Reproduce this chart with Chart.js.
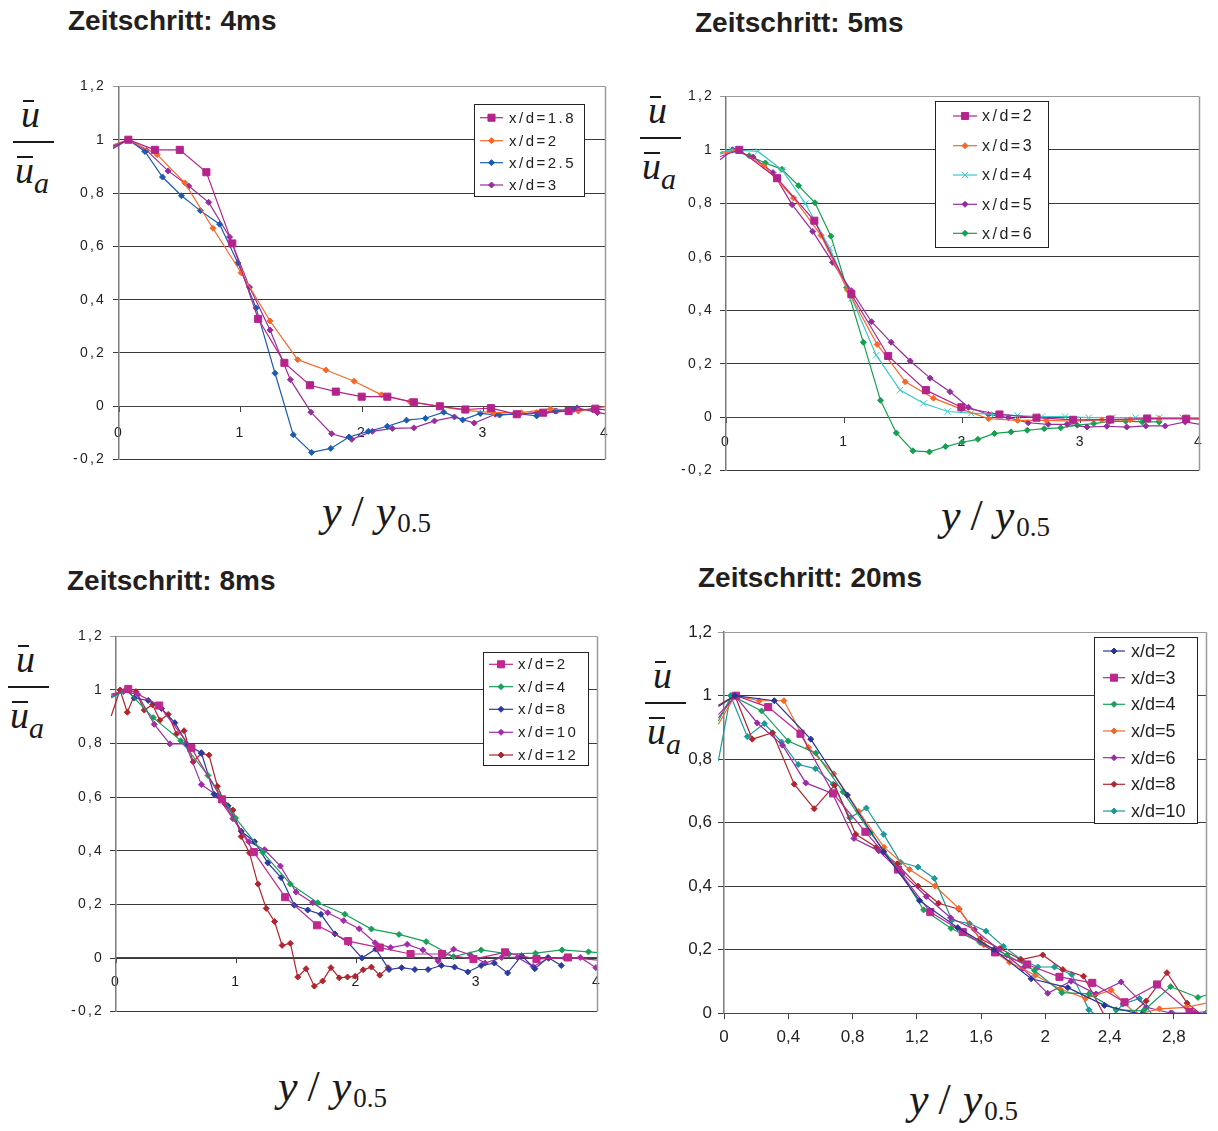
<!DOCTYPE html>
<html>
<head>
<meta charset="utf-8">
<script src="https://cdn.jsdelivr.net/npm/chart.js@4.4.1/dist/chart.umd.min.js"></script>
<style>
  html, body { margin: 0; padding: 0; background: #fff; }
  body { width: 1218px; height: 1131px; position: relative; overflow: hidden; }
  canvas { position: absolute; }
  .title { position: absolute; font: bold 28px 'Liberation Sans', Arial, sans-serif; line-height: 28px; color: #231f20; white-space: nowrap; }
  .ylab { position: absolute; width: 60px; height: 110px; font-family: 'Liberation Serif', 'Times New Roman', serif; font-style: italic; color: #1a1a1a; }
  .ylab div { position: absolute; }
  .ylab .ln { height: 1.5px; background: #1a1a1a; }
  .ylab .u { font-size: 38px; line-height: 38px; }
  .ylab .a { font-size: 30px; line-height: 30px; }
  .xlab { position: absolute; font-family: 'Liberation Serif', 'Times New Roman', serif; font-size: 44px; line-height: 44px; color: #1a1a1a; white-space: nowrap; }
  .xlab i { font-style: italic; }
  .xlab .sl { margin: 0 12px 0 10px; }
  .xlab .sb { font-size: 27px; vertical-align: -6px; margin-left: 2px; }
</style>
</head>
<body>

<div class="title" style="left:68px; top:7px;">Zeitschritt: 4ms</div>
<div class="title" style="left:695px; top:9px;">Zeitschritt: 5ms</div>
<div class="title" style="left:67px; top:567px;">Zeitschritt: 8ms</div>
<div class="title" style="left:698px; top:564px;">Zeitschritt: 20ms</div>

<div class="ylab" style="left:13px; top:95px;">
  <div class="ln" style="left:10px; top:5px; width:11px;"></div>
  <div class="u" style="left:8px; top:0px;">u</div>
  <div class="ln" style="left:0px; top:46px; width:41px;"></div>
  <div class="ln" style="left:4px; top:61px; width:16px;"></div>
  <div class="u" style="left:2px; top:56px;">u</div>
  <div class="a" style="left:21px; top:73px;">a</div>
</div>
<div class="ylab" style="left:640px; top:91px;">
  <div class="ln" style="left:10px; top:5px; width:11px;"></div>
  <div class="u" style="left:8px; top:0px;">u</div>
  <div class="ln" style="left:0px; top:46px; width:41px;"></div>
  <div class="ln" style="left:4px; top:61px; width:16px;"></div>
  <div class="u" style="left:2px; top:56px;">u</div>
  <div class="a" style="left:21px; top:73px;">a</div>
</div>
<div class="ylab" style="left:8px; top:640px;">
  <div class="ln" style="left:10px; top:5px; width:11px;"></div>
  <div class="u" style="left:8px; top:0px;">u</div>
  <div class="ln" style="left:0px; top:46px; width:41px;"></div>
  <div class="ln" style="left:4px; top:61px; width:16px;"></div>
  <div class="u" style="left:2px; top:56px;">u</div>
  <div class="a" style="left:21px; top:73px;">a</div>
</div>
<div class="ylab" style="left:645px; top:656px;">
  <div class="ln" style="left:10px; top:5px; width:11px;"></div>
  <div class="u" style="left:8px; top:0px;">u</div>
  <div class="ln" style="left:0px; top:46px; width:41px;"></div>
  <div class="ln" style="left:4px; top:61px; width:16px;"></div>
  <div class="u" style="left:2px; top:56px;">u</div>
  <div class="a" style="left:21px; top:73px;">a</div>
</div>

<div class="xlab" style="left:322px; top:490px;"><i>y</i><span class="sl">/</span><i>y</i><span class="sb">0.5</span></div>
<div class="xlab" style="left:941px; top:494px;"><i>y</i><span class="sl">/</span><i>y</i><span class="sb">0.5</span></div>
<div class="xlab" style="left:278px; top:1065px;"><i>y</i><span class="sl">/</span><i>y</i><span class="sb">0.5</span></div>
<div class="xlab" style="left:909px; top:1078px;"><i>y</i><span class="sl">/</span><i>y</i><span class="sb">0.5</span></div>

<canvas id="c4ms"></canvas>
<canvas id="c5ms"></canvas>
<canvas id="c8ms"></canvas>
<canvas id="c20ms"></canvas>

<script>
// ---------- Zeitschritt 4ms ----------
const p1_xd18_x = [-0.055, 0.077, 0.295, 0.5, 0.719, 0.932, 1.145, 1.361, 1.571, 1.784, 1.997, 2.208, 2.426, 2.64, 2.85, 3.06, 3.273, 3.49, 3.70, 3.92, 4.13];
const p1_xd18_y = [0.975, 1.0, 0.962, 0.962, 0.878, 0.611, 0.328, 0.163, 0.079, 0.055, 0.036, 0.036, 0.015, 0.0, -0.012, -0.007, -0.03, -0.024, -0.018, -0.009, -0.02];
const p1_xd2_x = [-0.055, 0.077, 0.314, 0.541, 0.773, 1.005, 1.243, 1.47, 1.702, 1.934, 2.161, 2.393, 2.63, 2.85, 3.08, 3.31, 3.55, 3.78, 4.02];
const p1_xd2_y = [0.98, 1.0, 0.944, 0.838, 0.668, 0.501, 0.320, 0.175, 0.136, 0.094, 0.043, 0.018, 0.0, -0.015, -0.024, -0.024, -0.01, -0.018, 0.0];
const p1_xd25_x = [-0.055, 0.077, 0.213, 0.358, 0.514, 0.669, 0.828, 0.978, 1.128, 1.284, 1.434, 1.585, 1.743, 1.893, 2.052, 2.208, 2.366, 2.522, 2.672, 2.828, 2.973, 3.131, 3.287, 3.437, 3.587, 3.743, 3.90, 4.05];
const p1_xd25_y = [0.97, 1.0, 0.956, 0.860, 0.790, 0.734, 0.683, 0.538, 0.369, 0.124, -0.107, -0.173, -0.158, -0.115, -0.094, -0.075, -0.052, -0.045, -0.022, -0.051, -0.027, -0.033, -0.028, -0.036, -0.018, -0.012, -0.012, -0.012];
const p1_xd3_x = [-0.055, 0.077, 0.227, 0.404, 0.574, 0.738, 0.91, 1.074, 1.243, 1.41, 1.579, 1.749, 1.915, 2.085, 2.249, 2.426, 2.596, 2.76, 2.923, 3.096, 3.268, 3.437, 3.60, 3.77, 3.937, 4.1];
const p1_xd3_y = [0.965, 1.0, 0.96, 0.883, 0.826, 0.765, 0.635, 0.447, 0.286, 0.10, -0.022, -0.103, -0.124, -0.094, -0.083, -0.081, -0.055, -0.040, -0.063, -0.030, -0.030, -0.024, -0.018, -0.006, -0.024, -0.035];

// ---------- Zeitschritt 5ms ----------
const p2_xd2_x = [-0.05, 0.112, 0.431, 0.747, 1.06, 1.371, 1.69, 1.99, 2.312, 2.625, 2.935, 3.248, 3.561, 3.891, 4.2];
const p2_xd2_y = [0.975, 1.0, 0.894, 0.735, 0.46, 0.229, 0.101, 0.037, 0.01, -0.002, -0.01, -0.009, -0.005, -0.006, -0.01];
const p2_xd3_x = [-0.05, 0.103, 0.322, 0.571, 0.803, 1.027, 1.278, 1.516, 1.754, 1.99, 2.22, 2.465, 2.706, 2.935, 3.178, 3.416, 3.662, 3.89, 4.13];
const p2_xd3_y = [0.985, 1.0, 0.939, 0.82, 0.68, 0.476, 0.272, 0.132, 0.071, 0.03, -0.006, -0.012, -0.012, -0.015, -0.01, -0.01, -0.006, -0.006, -0.005];
const p2_xd4_x = [-0.05, 0.048, 0.271, 0.476, 0.671, 0.878, 1.063, 1.27, 1.471, 1.67, 1.874, 2.074, 2.27, 2.465, 2.67, 2.866, 3.067, 3.268, 3.464, 3.663, 3.862, 4.06];
const p2_xd4_y = [0.99, 1.0, 0.994, 0.924, 0.799, 0.632, 0.445, 0.232, 0.101, 0.052, 0.021, 0.015, 0.01, 0.006, 0.002, 0.002, -0.002, -0.002, -0.002, -0.002, -0.002, -0.002];
const p2_xd5_x = [-0.05, 0.056, 0.229, 0.397, 0.559, 0.733, 0.901, 1.06, 1.23, 1.396, 1.558, 1.726, 1.894, 2.05, 2.22, 2.388, 2.555, 2.724, 2.884, 3.052, 3.22, 3.388, 3.549, 3.714, 3.883, 4.05];
const p2_xd5_y = [0.963, 1.0, 0.973, 0.915, 0.795, 0.695, 0.579, 0.473, 0.357, 0.28, 0.21, 0.146, 0.095, 0.037, 0.01, -0.002, -0.021, -0.027, -0.027, -0.037, -0.034, -0.037, -0.033, -0.033, -0.018, -0.03];
const p2_xd6_x = [-0.05, 0.056, 0.196, 0.333, 0.473, 0.613, 0.752, 0.887, 1.021, 1.161, 1.306, 1.44, 1.58, 1.72, 1.857, 1.997, 2.13, 2.27, 2.41, 2.547, 2.69, 2.83, 2.97, 3.11, 3.243, 3.38, 3.52, 3.662];
const p2_xd6_y = [0.99, 1.0, 0.978, 0.951, 0.927, 0.866, 0.802, 0.677, 0.485, 0.28, 0.063, -0.059, -0.126, -0.13, -0.11, -0.094, -0.083, -0.061, -0.055, -0.049, -0.043, -0.04, -0.03, -0.024, -0.016, -0.015, -0.018, -0.018];

// ---------- Zeitschritt 8ms ----------
const p3_xd2_x = [-0.04, 0.102, 0.359, 0.627, 0.881, 1.146, 1.406, 1.671, 1.93, 2.193, 2.449, 2.711, 2.972, 3.234, 3.496, 3.758, 4.1];
const p3_xd2_y = [0.98, 1.004, 0.942, 0.783, 0.592, 0.395, 0.227, 0.122, 0.063, 0.039, 0.015, 0.015, -0.004, 0.021, -0.004, 0.002, -0.012];
const p3_xd4_x = [-0.04, 0.088, 0.309, 0.539, 0.765, 0.994, 1.221, 1.45, 1.677, 1.903, 2.124, 2.353, 2.579, 2.807, 3.036, 3.267, 3.488, 3.708, 3.928, 4.15];
const p3_xd4_y = [0.97, 1.0, 0.897, 0.811, 0.681, 0.522, 0.394, 0.276, 0.206, 0.163, 0.108, 0.088, 0.061, 0.005, 0.03, 0.015, 0.018, 0.03, 0.023, 0.015];
const p3_xd8_x = [-0.04, 0.09, 0.152, 0.268, 0.378, 0.489, 0.599, 0.71, 0.815, 0.931, 1.041, 1.152, 1.262, 1.373, 1.483, 1.594, 1.704, 1.82, 1.931, 2.044, 2.16, 2.27, 2.375, 2.485, 2.595, 2.705, 2.815, 2.925, 3.036, 3.146, 3.256, 3.372, 3.482, 3.592, 3.702];
const p3_xd8_y = [0.975, 1.0, 0.97, 0.961, 0.931, 0.878, 0.793, 0.766, 0.611, 0.568, 0.473, 0.434, 0.355, 0.30, 0.197, 0.179, 0.163, 0.09, 0.057, 0.0, 0.033, -0.043, -0.036, -0.043, -0.043, -0.028, -0.034, -0.052, -0.028, -0.019, -0.056, 0.009, -0.04, 0.002, -0.028];
const p3_xd10_x = [-0.04, 0.061, 0.18, 0.318, 0.448, 0.577, 0.71, 0.843, 0.972, 1.105, 1.235, 1.367, 1.497, 1.635, 1.76, 1.892, 2.022, 2.154, 2.284, 2.421, 2.551, 2.678, 2.807, 2.945, 3.069, 3.207, 3.339, 3.468, 3.598, 3.73, 3.86, 3.99, 4.12];
const p3_xd10_y = [0.985, 0.994, 0.984, 0.872, 0.799, 0.799, 0.647, 0.605, 0.52, 0.434, 0.404, 0.343, 0.246, 0.206, 0.169, 0.139, 0.109, 0.057, 0.039, 0.051, 0.03, -0.012, 0.033, 0.012, -0.019, 0.002, 0.002, -0.032, -0.001, 0.0, 0.002, -0.036, -0.04];
const p3_xd12_x = [-0.04, 0.033, 0.094, 0.166, 0.235, 0.304, 0.365, 0.434, 0.503, 0.566, 0.641, 0.71, 0.773, 0.843, 0.909, 0.972, 1.041, 1.11, 1.18, 1.249, 1.318, 1.381, 1.45, 1.511, 1.58, 1.649, 1.718, 1.787, 1.856, 1.925, 1.989, 2.055, 2.124, 2.193, 2.262];
const p3_xd12_y = [0.903, 1.0, 0.917, 0.994, 0.925, 0.945, 0.887, 0.909, 0.836, 0.848, 0.732, 0.763, 0.757, 0.641, 0.574, 0.552, 0.453, 0.392, 0.276, 0.185, 0.136, 0.047, 0.055, -0.071, -0.040, -0.105, -0.086, -0.036, -0.074, -0.071, -0.068, -0.044, -0.034, -0.064, -0.036];

// ---------- Zeitschritt 20ms ----------
const p4_xd2_x = [-0.035, 0.068, 0.313, 0.54, 0.768, 0.994, 1.217, 1.455, 1.68, 1.912, 2.14, 2.368, 2.6, 2.83, 3.06];
const p4_xd2_y = [0.966, 1.0, 0.984, 0.863, 0.687, 0.508, 0.354, 0.269, 0.20, 0.108, 0.08, 0.024, -0.005, -0.01, -0.01];
const p4_xd3_x = [-0.035, 0.075, 0.275, 0.476, 0.679, 0.88, 1.083, 1.284, 1.486, 1.687, 1.887, 2.088, 2.292, 2.493, 2.695, 2.898, 3.1];
const p4_xd3_y = [0.94, 1.0, 0.964, 0.88, 0.692, 0.571, 0.452, 0.318, 0.255, 0.191, 0.153, 0.114, 0.095, 0.034, 0.09, 0.003, -0.03];
const p4_xd4_x = [-0.035, 0.048, 0.234, 0.40, 0.571, 0.741, 0.911, 1.087, 1.242, 1.413, 1.594, 1.762, 1.932, 2.103, 2.271, 2.441, 2.611, 2.78, 2.95, 3.12];
const p4_xd4_y = [0.92, 1.0, 0.952, 0.857, 0.819, 0.697, 0.568, 0.452, 0.325, 0.267, 0.222, 0.183, 0.134, 0.064, 0.06, 0.01, 0.007, 0.083, 0.049, 0.075];
const p4_xd5_x = [-0.035, 0.068, 0.219, 0.373, 0.526, 0.683, 0.839, 0.996, 1.155, 1.313, 1.461, 1.617, 1.777, 1.938, 2.094, 2.25, 2.41, 2.566, 2.71, 2.877, 3.04];
const p4_xd5_y = [0.91, 1.0, 0.984, 0.984, 0.837, 0.754, 0.635, 0.522, 0.452, 0.40, 0.33, 0.215, 0.16, 0.119, 0.075, 0.046, 0.072, -0.005, 0.013, 0.018, 0.035];
const p4_xd6_x = [-0.035, 0.068, 0.207, 0.364, 0.509, 0.675, 0.809, 0.963, 1.11, 1.259, 1.41, 1.558, 1.71, 1.86, 2.015, 2.16, 2.316, 2.472, 2.628, 2.78, 2.93, 3.08];
const p4_xd6_y = [0.93, 1.0, 0.914, 0.844, 0.725, 0.692, 0.55, 0.511, 0.439, 0.367, 0.30, 0.263, 0.20, 0.14, 0.062, 0.10, 0.06, 0.098, 0.018, 0.0, 0.0, 0.01];
const p4_xd8_x = [-0.035, 0.068, 0.176, 0.302, 0.437, 0.561, 0.689, 0.82, 0.948, 1.077, 1.207, 1.335, 1.462, 1.594, 1.718, 1.849, 1.984, 2.109, 2.238, 2.37, 2.5, 2.628, 2.757, 2.882, 3.01];
const p4_xd8_y = [0.97, 1.0, 0.863, 0.883, 0.721, 0.644, 0.718, 0.563, 0.522, 0.47, 0.40, 0.346, 0.327, 0.234, 0.203, 0.168, 0.183, 0.137, 0.116, -0.01, -0.02, 0.038, 0.127, 0.031, -0.02];
const p4_xd10_x = [-0.035, 0.041, 0.145, 0.251, 0.358, 0.462, 0.569, 0.679, 0.783, 0.886, 0.994, 1.099, 1.207, 1.31, 1.418, 1.527, 1.631, 1.739, 1.845, 1.953, 2.057, 2.165, 2.271, 2.38, 2.483, 2.586, 2.69, 2.79, 2.9, 3.0];
const p4_xd10_y = [0.795, 1.0, 0.871, 0.912, 0.854, 0.783, 0.77, 0.721, 0.615, 0.646, 0.563, 0.475, 0.46, 0.424, 0.292, 0.282, 0.258, 0.21, 0.17, 0.145, 0.145, 0.121, 0.01, -0.03, 0.028, 0.046, -0.02, 0.0, -0.01, 0.0];

const SANS = "'Liberation Sans', Arial, sans-serif";

// decimal comma tick labels: 0,2  1  1,2
function fmt(v) {
  const r = Math.round(v * 10) / 10;
  return String(r).replace('.', ',');
}

function drawMarker(ctx, style, r, x, y) {
  ctx.beginPath();
  if (style === 'rect') {
    const s = r * Math.SQRT1_2;
    ctx.rect(x - s, y - s, 2 * s, 2 * s);
    ctx.fill(); ctx.stroke();
  } else if (style === 'rectRot') {
    ctx.moveTo(x - r, y); ctx.lineTo(x, y - r); ctx.lineTo(x + r, y); ctx.lineTo(x, y + r);
    ctx.closePath(); ctx.fill(); ctx.stroke();
  } else if (style === 'crossRot') {
    const s = r * Math.SQRT1_2;
    ctx.moveTo(x - s, y - s); ctx.lineTo(x + s, y + s);
    ctx.moveTo(x + s, y - s); ctx.lineTo(x - s, y + s);
    ctx.stroke();
  }
}

function buildPanel(id, P) {
  const cv = document.getElementById(id);
  cv.width = P.box.w; cv.height = P.box.h;
  cv.style.left = P.box.x + 'px'; cv.style.top = P.box.y + 'px';

  const datasets = P.series.map(s => ({
    label: s.label,
    data: s.x.map((x, i) => ({ x: x, y: s.y[i] })),
    borderColor: s.color,
    backgroundColor: s.color,
    pointBackgroundColor: s.color,
    pointBorderColor: s.color,
    borderWidth: 1.2,
    pointBorderWidth: 1,
    pointStyle: s.shape,
    pointRadius: c => (c.raw && (c.raw.x < P.x.min || c.raw.x > P.x.max)) ? 0 : s.r,
    tension: 0,
    clip: { left: 6, top: 0, right: 0, bottom: 0 }
  }));

  const decor = {
    id: 'decor_' + id,
    beforeDraw(chart) {
      chart.ctx.letterSpacing = P.tickSpacing + 'px';
    },
    afterDatasetsDraw(chart) {
      const a = chart.chartArea, ctx = chart.ctx;
      ctx.save();
      ctx.strokeStyle = '#9a9a9a';
      ctx.lineWidth = 1.5;
      ctx.beginPath();
      ctx.moveTo(Math.round(a.right) + 0.5, a.top);
      ctx.lineTo(Math.round(a.right) + 0.5, a.bottom);
      ctx.stroke();
      ctx.restore();
    },
    afterDraw(chart) {
      const L = P.legend, ctx = chart.ctx, ox = P.box.x, oy = P.box.y;
      ctx.save();
      ctx.fillStyle = '#fff';
      ctx.fillRect(L.x - ox, L.y - oy, L.w, L.h);
      ctx.strokeStyle = '#222';
      ctx.lineWidth = 1;
      ctx.strokeRect(Math.round(L.x - ox) + 0.5, Math.round(L.y - oy) + 0.5, L.w, L.h);
      P.series.forEach((s, i) => {
        const cy = L.rows[i] - oy;
        ctx.strokeStyle = s.color; ctx.fillStyle = s.color;
        ctx.lineWidth = 1.2;
        ctx.beginPath();
        ctx.moveTo(L.line[0] - ox, cy); ctx.lineTo(L.line[1] - ox, cy);
        ctx.stroke();
        ctx.lineWidth = 1;
        drawMarker(ctx, s.shape, s.r, (L.line[0] + L.line[1]) / 2 - ox, cy);
        ctx.fillStyle = '#222';
        ctx.font = L.font + 'px ' + SANS;
        ctx.letterSpacing = L.spacing + 'px';
        ctx.textAlign = 'left';
        ctx.textBaseline = 'middle';
        ctx.fillText(s.label, L.text - ox, cy + 1);
      });
      ctx.restore();
    }
  };

  return new Chart(cv, {
    type: 'line',
    data: { datasets: datasets },
    plugins: [decor],
    options: {
      responsive: false,
      animation: false,
      devicePixelRatio: 1,
      events: [],
      layout: { padding: P.pad, autoPadding: false },
      plugins: { legend: { display: false }, tooltip: { enabled: false } },
      scales: {
        x: {
          type: 'linear',
          min: P.x.min, max: P.x.max,
          position: { y: Math.max(0, P.y.min) },
          afterFit: s => { s.height = 0; },
          ticks: {
            stepSize: P.x.step, includeBounds: false, autoSkip: false, maxRotation: 0,
            callback: v => fmt(v),
            font: { family: SANS, size: P.tickFont }, color: '#222', padding: P.xPad
          },
          grid: { drawOnChartArea: false, drawTicks: true, tickLength: 5, color: '#444', lineWidth: 1 },
          border: { display: true, color: '#444', width: 1 }
        },
        y: {
          type: 'linear',
          position: 'left',
          min: P.y.min, max: P.y.max,
          afterFit: s => { s.width = P.yWidth; },
          ticks: {
            stepSize: 0.2, includeBounds: false,
            callback: v => fmt(v),
            font: { family: SANS, size: P.tickFont }, color: '#222', padding: P.yPad
          },
          grid: {
            color: c => (c.tick && Math.abs(c.tick.value - P.y.max) < 1e-6) ? '#9a9a9a' : '#3a3a3a',
            lineWidth: 1, drawTicks: true, tickLength: 6
          },
          border: { display: true, color: '#7a7a7a', width: 1.5 }
        }
      }
    }
  });
}

const MAG = '#b4238c', ORG = '#f7672a', BLU = '#1a5cb0', PUR = '#9a2c9c';

buildPanel('c4ms', {
  box: { x: 59, y: 71, w: 563, h: 404 },
  pad: { left: 0, top: 10, right: 15, bottom: 10 },
  yWidth: 60, tickFont: 14, tickSpacing: 2.2, yPad: 7, xPad: 13,
  x: { min: 0, max: 4, step: 1 }, y: { min: -0.2, max: 1.2 },
  series: [
    { label: 'x/d=1.8', x: p1_xd18_x, y: p1_xd18_y, color: MAG, shape: 'rect', r: 5 },
    { label: 'x/d=2', x: p1_xd2_x, y: p1_xd2_y, color: ORG, shape: 'rectRot', r: 3 },
    { label: 'x/d=2.5', x: p1_xd25_x, y: p1_xd25_y, color: BLU, shape: 'rectRot', r: 3 },
    { label: 'x/d=3', x: p1_xd3_x, y: p1_xd3_y, color: PUR, shape: 'rectRot', r: 3 }
  ],
  legend: { x: 474, y: 104, w: 110, h: 92, rows: [117.7, 140.7, 162.7, 185], line: [480, 503], text: 509, font: 15, spacing: 2.5 }
});

buildPanel('c5ms', {
  box: { x: 666, y: 82, w: 549, h: 403 },
  pad: { left: 0, top: 10, right: 12, bottom: 10 },
  yWidth: 60, tickFont: 14, tickSpacing: 2.2, yPad: 6, xPad: 12,
  x: { min: 0, max: 4, step: 1 }, y: { min: -0.2, max: 1.2 },
  series: [
    { label: 'x/d=2', x: p2_xd2_x, y: p2_xd2_y, color: MAG, shape: 'rect', r: 5 },
    { label: 'x/d=3', x: p2_xd3_x, y: p2_xd3_y, color: ORG, shape: 'rectRot', r: 3 },
    { label: 'x/d=4', x: p2_xd4_x, y: p2_xd4_y, color: '#3cc8c8', shape: 'crossRot', r: 4.5 },
    { label: 'x/d=5', x: p2_xd5_x, y: p2_xd5_y, color: '#962d9e', shape: 'rectRot', r: 3 },
    { label: 'x/d=6', x: p2_xd6_x, y: p2_xd6_y, color: '#14a050', shape: 'rectRot', r: 3 }
  ],
  legend: { x: 935, y: 101, w: 113, h: 146, rows: [116, 145.7, 175, 204.3, 233.3], line: [953, 977], text: 982, font: 16, spacing: 2.5 }
});

buildPanel('c8ms', {
  box: { x: 56, y: 622, w: 556, h: 404 },
  pad: { left: 0, top: 10, right: 12, bottom: 10 },
  yWidth: 60, tickFont: 14, tickSpacing: 2.2, yPad: 6, xPad: 11,
  x: { min: 0, max: 4, step: 1 }, y: { min: -0.2, max: 1.2 },
  series: [
    { label: 'x/d=2', x: p3_xd2_x, y: p3_xd2_y, color: '#c0288e', shape: 'rect', r: 5 },
    { label: 'x/d=4', x: p3_xd4_x, y: p3_xd4_y, color: '#18a05a', shape: 'rectRot', r: 3 },
    { label: 'x/d=8', x: p3_xd8_x, y: p3_xd8_y, color: '#2a3a9e', shape: 'rectRot', r: 3 },
    { label: 'x/d=10', x: p3_xd10_x, y: p3_xd10_y, color: '#a12da8', shape: 'rectRot', r: 3 },
    { label: 'x/d=12', x: p3_xd12_x, y: p3_xd12_y, color: '#b2242e', shape: 'rectRot', r: 3 }
  ],
  legend: { x: 483, y: 652, w: 105, h: 113, rows: [664.3, 686.7, 709.3, 732.3, 755], line: [489, 513], text: 518, font: 15, spacing: 2.5 }
});

buildPanel('c20ms', {
  box: { x: 674, y: 616, w: 544, h: 437 },
  pad: { left: 0, top: 10, right: 12, bottom: 40 },
  yWidth: 50, tickFont: 17, tickSpacing: 0, yPad: 6, xPad: 9,
  x: { min: 0, max: 3, step: 0.4 }, y: { min: 0, max: 1.2 },
  series: [
    { label: 'x/d=2', x: p4_xd2_x, y: p4_xd2_y, color: '#2a3494', shape: 'rectRot', r: 3 },
    { label: 'x/d=3', x: p4_xd3_x, y: p4_xd3_y, color: '#ba2890', shape: 'rect', r: 5 },
    { label: 'x/d=4', x: p4_xd4_x, y: p4_xd4_y, color: '#17a05a', shape: 'rectRot', r: 3 },
    { label: 'x/d=5', x: p4_xd5_x, y: p4_xd5_y, color: ORG, shape: 'rectRot', r: 3 },
    { label: 'x/d=6', x: p4_xd6_x, y: p4_xd6_y, color: '#9a2ca6', shape: 'rectRot', r: 3 },
    { label: 'x/d=8', x: p4_xd8_x, y: p4_xd8_y, color: '#b2242e', shape: 'rectRot', r: 3 },
    { label: 'x/d=10', x: p4_xd10_x, y: p4_xd10_y, color: '#1a9a9a', shape: 'rectRot', r: 3 }
  ],
  legend: { x: 1094, y: 637, w: 103, h: 186, rows: [651, 677.7, 704.3, 731, 757.7, 784.3, 811], line: [1103, 1125], text: 1131, font: 18, spacing: 0 }
});
</script>
</body>
</html>
